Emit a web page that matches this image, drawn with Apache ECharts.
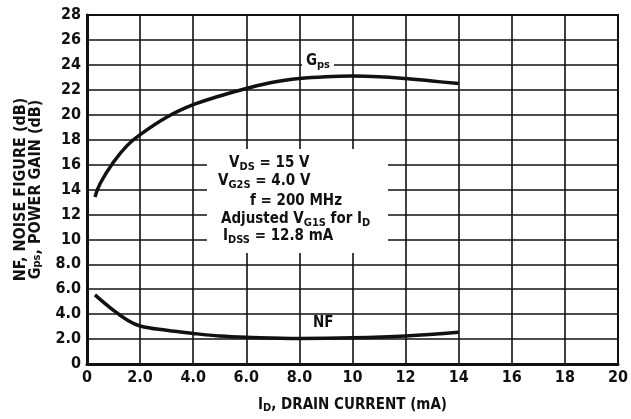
<!DOCTYPE html>
<html>
<head>
<meta charset="utf-8">
<script src="https://cdn.jsdelivr.net/npm/echarts@6/dist/echarts.min.js"></script>
<style>
  html, body { margin: 0; padding: 0; background: #fff; }
  #chart { width: 631px; height: 419px; }
</style>
</head>
<body>
<div id="chart"></div>
<script>
// drain current (mA)
const gpsX = [0.3, 0.5, 1, 1.5, 2, 3, 4, 5, 6, 7, 8, 9, 10, 11, 12, 13, 14];
const gpsY = [13.4, 14.5, 16.2, 17.5, 18.4, 19.8, 20.8, 21.5, 22.1, 22.6, 22.9, 23.05, 23.1, 23.05, 22.9, 22.7, 22.5];
const nfX = [0.3, 1, 1.5, 2, 3, 4, 5, 6, 8, 10, 12, 14];
const nfY = [5.55, 4.3, 3.55, 3.05, 2.7, 2.45, 2.25, 2.15, 2.05, 2.1, 2.25, 2.55];
const xTickLabels = ["0", "2.0", "4.0", "6.0", "8.0", "10", "12", "14", "16", "18", "20"];
const yTickLabels = ["0", "2.0", "4.0", "6.0", "8.0", "10", "12", "14", "16", "18", "20", "22", "24", "26", "28"];

const FONT = "'Liberation Sans Narrow', 'DejaVu Sans Condensed', sans-serif";
const sub = { fontSize: 11, fontWeight: "bold", fontFamily: FONT, padding: [7, 0, 0, 0], color: "#111" };
const base = { fontSize: 15, fontWeight: "bold", fontFamily: FONT, color: "#111" };

let myChart = echarts.init(document.getElementById("chart"));

function note(left, top, text) {
  return {
    type: "text",
    left: left,
    top: top,
    z: 10,
    style: {
      text: text,
      font: "bold 15px " + FONT,
      fill: "#111",
      rich: { s: sub },
    },
  };
}

let option = {
  animation: false,
  backgroundColor: "#fff",
  grid: {
    left: 87,
    right: 3,
    top: 15,
    bottom: 53,
    show: true,
    borderColor: "#111",
    borderWidth: 2,
  },
  xAxis: {
    type: "value",
    min: 0,
    max: 20,
    interval: 2,
    name: "I{s|D}, DRAIN CURRENT (mA)",
    nameLocation: "middle",
    nameGap: 32,
    nameTextStyle: Object.assign({}, base, { rich: { s: sub } }),
    axisLine: { lineStyle: { color: "#111", width: 3 } },
    axisTick: { show: false },
    splitLine: { lineStyle: { color: "#111", width: 1.6 } },
    axisLabel: Object.assign({}, base, {
      fontSize: 16,
      margin: 6,
      formatter: (v) => xTickLabels[Math.round(v / 2)],
    }),
  },
  yAxis: {
    type: "value",
    min: 0,
    max: 28,
    interval: 2,
    name: "NF, NOISE FIGURE (dB)\nG{s|ps}, POWER GAIN (dB)",
    nameLocation: "middle",
    nameRotate: 90,
    nameGap: 44,
    nameTextStyle: Object.assign({}, base, { fontSize: 16, lineHeight: 15, rich: { s: Object.assign({}, sub, { padding: [4, 0, 0, 0] }) } }),
    axisLine: { show: true, lineStyle: { color: "#111", width: 3 } },
    axisTick: { show: false },
    splitLine: { lineStyle: { color: "#111", width: 1.6 } },
    axisLabel: Object.assign({}, base, {
      fontSize: 16,
      margin: 6,
      formatter: (v) => yTickLabels[Math.round(v / 2)],
    }),
  },
  graphic: [
    // white box behind the test-condition note
    {
      type: "rect",
      shape: { x: 207, y: 149, width: 181, height: 104 },
      style: { fill: "#fff" },
      z: 5,
    },
    note(229, 156, "V{s|DS} = 15 V"),
    note(218, 174, "V{s|G2S} = 4.0 V"),
    note(250, 194, "f = 200 MHz"),
    note(221, 212, "Adjusted V{s|G1S} for I{s|D}"),
    note(223, 229, "I{s|DSS} = 12.8 mA"),
  ],
  series: [
    {
      name: "Gps",
      type: "line",
      smooth: 0.4,
      symbol: "none",
      z: 20,
      lineStyle: { color: "#111", width: 3.5 },
      data: gpsX.map((x, i) => [x, gpsY[i]]),
      markPoint: {
        symbol: "circle",
        symbolSize: 0,
        data: [{ coord: [8.7, 24.2] }],
        label: {
          show: true,
          formatter: "G{s|ps}",
          backgroundColor: "#fff",
          padding: [0, 4, 2, 4],
          fontSize: 15,
          fontWeight: "bold",
          fontFamily: FONT,
          color: "#111",
          rich: { s: sub },
        },
      },
    },
    {
      name: "NF",
      type: "line",
      smooth: 0.4,
      symbol: "none",
      z: 20,
      lineStyle: { color: "#111", width: 3.5 },
      data: nfX.map((x, i) => [x, nfY[i]]),
      markPoint: {
        symbol: "circle",
        symbolSize: 0,
        data: [{ coord: [8.9, 3.3] }],
        label: {
          show: true,
          formatter: "NF",
          fontSize: 15,
          fontWeight: "bold",
          fontFamily: FONT,
          color: "#111",
        },
      },
    },
  ],
};
myChart.setOption(option);
</script>
</body>
</html>
